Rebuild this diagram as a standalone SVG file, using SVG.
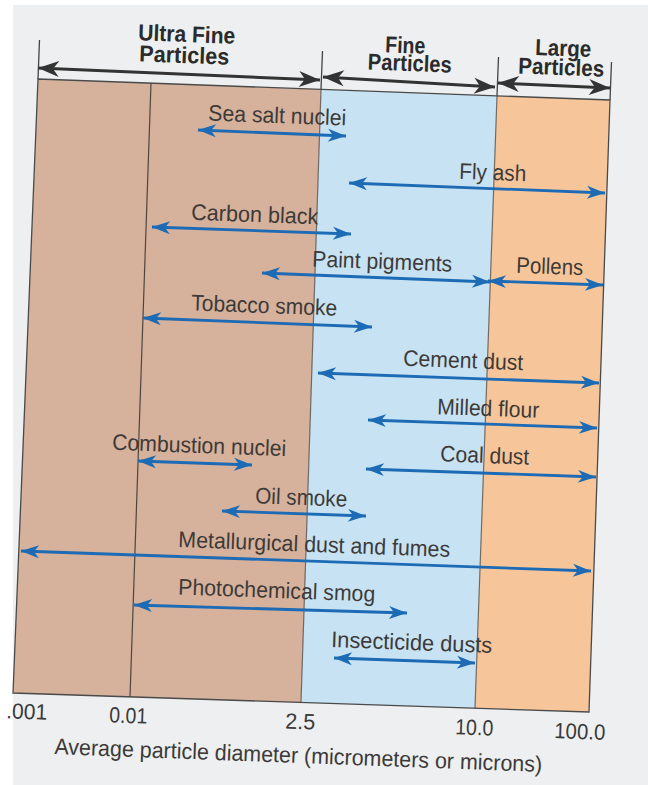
<svg xmlns="http://www.w3.org/2000/svg" width="648" height="785" viewBox="0 0 648 785">
<defs>
<style>
.hdr{font-family:"Liberation Sans",Arial,sans-serif;font-weight:bold;font-size:23px;fill:#2b2b2b;text-anchor:middle}
.lbl{font-family:"Liberation Sans",Arial,sans-serif;font-size:22.5px;fill:#3d3a38;text-anchor:middle}
.tick{font-family:"Liberation Sans",Arial,sans-serif;font-size:22px;fill:#3a3a3a;text-anchor:middle}
.blue{stroke:#1c6bb4;stroke-width:2.8;fill:none;marker-start:url(#ab);marker-end:url(#ab)}
.dark{stroke:#333;stroke-width:3;fill:none;marker-start:url(#ad);marker-end:url(#ad)}
.vl{stroke:#4e4640;stroke-width:1.2;fill:none}
.tk{stroke:#444;stroke-width:1.3;fill:none}
</style>
<marker id="ab" viewBox="-19 -8 20 16" refX="0" refY="0" markerWidth="20" markerHeight="16" markerUnits="userSpaceOnUse" orient="auto-start-reverse">
<path d="M0,0 L-18,-6.5 L-13,0 L-18,6.5 Z" fill="#1c6bb4"/>
</marker>
<marker id="ad" viewBox="-22 -9 23 18" refX="0" refY="0" markerWidth="23" markerHeight="18" markerUnits="userSpaceOnUse" orient="auto-start-reverse">
<path d="M0,0 L-21,-8 L-15,0 L-21,8 Z" fill="#333"/>
</marker>
</defs>

<rect x="0" y="0" width="648" height="785" fill="#ffffff"/>
<rect x="13" y="5" width="635" height="780" fill="#edeff0"/>

<g id="band-ultrafine">
<polygon points="38,79 321,89.4 301,702.5 13,693" fill="#d6b19b"/>
</g>
<g id="band-fine">
<polygon points="321,89.4 497,95.9 475,708.2 301,702.5" fill="#c7e2f3"/>
</g>
<g id="band-large">
<polygon points="497,95.9 610,100 589,712 475,708.2" fill="#f6c69a"/>
</g>
<g id="frame">
<polygon points="38,79 610,100 589,712 13,693" fill="none" stroke="#4a4a4a" stroke-width="1.3"/>
<line class="vl" x1="151" y1="83" x2="130" y2="697"/>
<line class="vl" x1="321" y1="89.4" x2="301" y2="702.5" opacity="0.75"/>
<line class="vl" x1="497" y1="95.9" x2="475" y2="708.2" opacity="0.75"/>
</g>

<g id="header">
<line class="tk" x1="39.5" y1="40" x2="38" y2="79"/>
<line class="tk" x1="322.5" y1="51" x2="321" y2="89.4"/>
<line class="tk" x1="498.5" y1="57" x2="497" y2="95.9"/>
<line class="tk" x1="611.5" y1="62" x2="610" y2="100"/>
<text class="hdr" x="186.5" y="42" textLength="97" lengthAdjust="spacingAndGlyphs" transform="rotate(2.1 186.5 42)">Ultra Fine</text>
<text class="hdr" x="184" y="63" textLength="90" lengthAdjust="spacingAndGlyphs" transform="rotate(2.1 184 63)">Particles</text>
<text class="hdr" x="405" y="53" textLength="40" lengthAdjust="spacingAndGlyphs" transform="rotate(2.1 405 53)">Fine</text>
<text class="hdr" x="409.5" y="71" textLength="84" lengthAdjust="spacingAndGlyphs" transform="rotate(2.1 409.5 71)">Particles</text>
<text class="hdr" x="563" y="56" textLength="56" lengthAdjust="spacingAndGlyphs" transform="rotate(2.1 563 56)">Large</text>
<text class="hdr" x="561" y="75" textLength="86" lengthAdjust="spacingAndGlyphs" transform="rotate(2.1 561 75)">Particles</text>
</g>

<g id="labels">
<text class="lbl" x="277" y="123" textLength="138" lengthAdjust="spacingAndGlyphs" transform="rotate(2.1 277 123)">Sea salt nuclei</text>
<text class="lbl" x="492.5" y="180" textLength="67" lengthAdjust="spacingAndGlyphs" transform="rotate(2.1 492.5 180)">Fly ash</text>
<text class="lbl" x="254.5" y="222" textLength="127" lengthAdjust="spacingAndGlyphs" transform="rotate(2.1 254.5 222)">Carbon black</text>
<text class="lbl" x="382" y="269" textLength="140" lengthAdjust="spacingAndGlyphs" transform="rotate(2.1 382 269)">Paint pigments</text>
<text class="lbl" x="549.5" y="274" textLength="67" lengthAdjust="spacingAndGlyphs" transform="rotate(2.1 549.5 274)">Pollens</text>
<text class="lbl" x="264" y="313" textLength="146" lengthAdjust="spacingAndGlyphs" transform="rotate(2.1 264 313)">Tobacco smoke</text>
<text class="lbl" x="463" y="368" textLength="120" lengthAdjust="spacingAndGlyphs" transform="rotate(2.1 463 368)">Cement dust</text>
<text class="lbl" x="488" y="416" textLength="102" lengthAdjust="spacingAndGlyphs" transform="rotate(2.1 488 416)">Milled flour</text>
<text class="lbl" x="199" y="453" textLength="174" lengthAdjust="spacingAndGlyphs" transform="rotate(2.1 199 453)">Combustion nuclei</text>
<text class="lbl" x="484.5" y="463" textLength="89" lengthAdjust="spacingAndGlyphs" transform="rotate(2.1 484.5 463)">Coal dust</text>
<text class="lbl" x="301" y="505" textLength="92" lengthAdjust="spacingAndGlyphs" transform="rotate(2.1 301 505)">Oil smoke</text>
<text class="lbl" x="314" y="552" textLength="272" lengthAdjust="spacingAndGlyphs" transform="rotate(2.1 314 552)">Metallurgical dust and fumes</text>
<text class="lbl" x="276.5" y="598" textLength="197" lengthAdjust="spacingAndGlyphs" transform="rotate(2.1 276.5 598)">Photochemical smog</text>
<text class="lbl" x="411.5" y="650" textLength="161" lengthAdjust="spacingAndGlyphs" transform="rotate(2.1 411.5 650)">Insecticide dusts</text>
</g>

<g id="axis">
<text class="tick" x="26.5" y="719" textLength="41" lengthAdjust="spacingAndGlyphs" transform="rotate(2.1 26.5 719)">.001</text>
<text class="tick" x="128" y="723" textLength="38" lengthAdjust="spacingAndGlyphs" transform="rotate(2.1 128 723)">0.01</text>
<text class="tick" x="300" y="729" textLength="30" lengthAdjust="spacingAndGlyphs" transform="rotate(2.1 300 729)">2.5</text>
<text class="tick" x="474" y="735" textLength="38" lengthAdjust="spacingAndGlyphs" transform="rotate(2.1 474 735)">10.0</text>
<text class="tick" x="579.5" y="739" textLength="51" lengthAdjust="spacingAndGlyphs" transform="rotate(2.1 579.5 739)">100.0</text>
<text class="lbl" x="298" y="763" textLength="488" lengthAdjust="spacingAndGlyphs" transform="rotate(2.1 298 763)">Average particle diameter (micrometers or microns)</text>
</g>

<g id="connectors">
<line class="dark" x1="38" y1="68" x2="320" y2="80"/>
<line class="dark" x1="323" y1="77" x2="495" y2="87"/>
<line class="dark" x1="498" y1="83" x2="610" y2="88"/>
<line class="blue" x1="198" y1="130" x2="346" y2="136"/>
<line class="blue" x1="349" y1="183" x2="605" y2="193"/>
<line class="blue" x1="152" y1="227" x2="351" y2="234"/>
<line class="blue" x1="262" y1="273" x2="490" y2="282"/>
<line class="blue" x1="488" y1="281" x2="603" y2="285"/>
<line class="blue" x1="143" y1="318" x2="372" y2="327"/>
<line class="blue" x1="318" y1="373" x2="599" y2="383"/>
<line class="blue" x1="368" y1="420" x2="597" y2="428"/>
<line class="blue" x1="138" y1="461" x2="252" y2="465"/>
<line class="blue" x1="366" y1="469" x2="596" y2="477"/>
<line class="blue" x1="222" y1="511" x2="366" y2="516"/>
<line class="blue" x1="21" y1="551" x2="591" y2="571"/>
<line class="blue" x1="134" y1="605" x2="407" y2="613"/>
<line class="blue" x1="334" y1="658" x2="475" y2="663"/>
</g>
</svg>
